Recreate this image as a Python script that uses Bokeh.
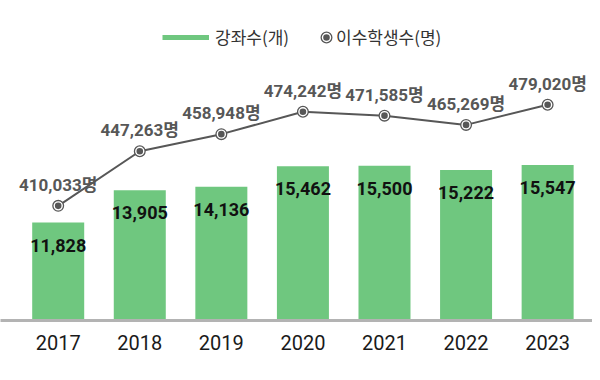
from bokeh.plotting import figure
from bokeh.models import Range1d, FixedTicker, Legend, LegendItem
from bokeh.core.properties import value
from bokeh.embed import file_html
from bokeh.resources import INLINE

# ---- data ----
years = ["2017", "2018", "2019", "2020", "2021", "2022", "2023"]
courses = [11828, 13905, 14136, 15462, 15500, 15222, 15547]          # 강좌수(개)
students = [410033, 447263, 458948, 474242, 471585, 465269, 479020]  # 이수학생수(명)

idx = list(range(len(years)))
course_labels = [f"{v:,}" for v in courses]
student_labels = [f"{v:,}명" for v in students]

GREEN = "#6fc77f"
GRAY = "#575757"
NUM_FONT = "Roboto, Noto Sans CJK KR"
KR_FONT = "Noto Sans CJK KR"

p = figure(width=592, height=372, output_backend="svg", toolbar_location=None,
           x_range=Range1d(-0.7074, 6.55), y_range=Range1d(5511, 26152),
           y_axis_location=None,
           min_border_left=0, min_border_right=0, min_border_top=0, min_border_bottom=52)
p.extra_y_ranges = {"stu": Range1d(331770, 550170)}
p.outline_line_color = None
p.xgrid.visible = False
p.ygrid.visible = False
p.background_fill_color = "white"
p.border_fill_color = "white"

ax = p.xaxis[0]
ax.ticker = FixedTicker(ticks=idx)
ax.major_label_overrides = {i: y for i, y in zip(idx, years)}
ax.major_tick_in = 0
ax.major_tick_out = 0
ax.minor_tick_in = 0
ax.minor_tick_out = 0
ax.axis_line_color = "#b3b3b3"
ax.axis_line_width = 3
ax.major_label_standoff = 14
ax.major_label_text_font = NUM_FONT
ax.major_label_text_font_size = "20px"
ax.major_label_text_color = "#1a1a1a"

# bars
p.vbar(x=idx, top=courses, bottom=0, width=0.6375, fill_color=GREEN, line_color=None)
p.text(x=idx, y=courses, text=course_labels, y_offset=22.5,
       text_align="center", text_baseline="middle",
       text_font=value(NUM_FONT), text_font_style="bold", text_font_size="18px",
       text_color="#111111")

# line
p.line(x=idx, y=students, y_range_name="stu", line_color=GRAY, line_width=2)
mk_a = p.scatter(x=idx, y=students, y_range_name="stu", marker="circle", size=8,
                 fill_color=GRAY, line_color=GRAY, line_width=4)
mk_b = p.scatter(x=idx, y=students, y_range_name="stu", marker="circle", size=8,
                 fill_color=None, line_color="white", line_width=1.4)
p.text(x=idx, y=students, text=student_labels, y_range_name="stu", y_offset=-21,
       text_align="center", text_baseline="middle",
       text_font=value(NUM_FONT), text_font_style="bold", text_font_size="17px",
       text_color=GRAY)

# legends (legend-only swatch for the bar series, drawn as a thick line)
swatch = p.line(x=[idx[0]], y=[float("nan")], line_color=GREEN, line_width=5)
common = dict(padding=0, margin=0, border_line_color=None, background_fill_alpha=0,
              label_text_font=KR_FONT, label_text_font_size="17px",
              label_text_color="#333333", orientation="horizontal")
leg1 = Legend(items=[LegendItem(label="강좌수(개)", renderers=[swatch])],
              location=(162, 271), glyph_width=47, glyph_height=20,
              label_standoff=6, **common)
leg2 = Legend(items=[LegendItem(label="이수학생수(명)", renderers=[mk_a, mk_b])],
              location=(316, 271), glyph_width=20, glyph_height=20,
              label_standoff=-3, **common)
p.add_layout(leg1)
p.add_layout(leg2)

open("out.html", "w").write(file_html(p, INLINE))
